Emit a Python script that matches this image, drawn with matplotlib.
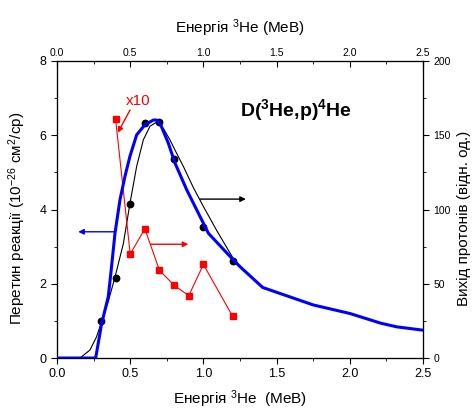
import matplotlib
matplotlib.use("Agg")
import matplotlib.pyplot as plt
from matplotlib.ticker import MultipleLocator, FormatStrFormatter

plt.rcParams['font.family'] = ['Liberation Sans', 'DejaVu Sans']
plt.rcParams['mathtext.fontset'] = 'custom'
plt.rcParams['mathtext.rm'] = 'Liberation Sans'
plt.rcParams['mathtext.it'] = 'Liberation Sans:italic'
plt.rcParams['mathtext.bf'] = 'Liberation Sans:bold'
plt.rcParams['mathtext.default'] = 'regular'

# Cross section (left axis), 10^-26 cm^2/sr
xs_energy = [0.0, 0.264, 0.305, 0.35, 0.369, 0.396, 0.43, 0.464, 0.498, 0.544,
             0.60, 0.658, 0.68, 0.703, 0.76, 0.806, 0.886, 0.977, 1.034, 1.193,
             1.25, 1.405, 1.75, 2.0, 2.21, 2.32, 2.5]
xs_value = [0.0, 0.0, 0.93, 1.65, 2.33, 3.36, 4.26, 4.89, 5.43, 6.01,
            6.28, 6.41, 6.41, 6.33, 5.79, 5.25, 4.53, 3.81, 3.36, 2.69,
            2.46, 1.90, 1.43, 1.20, 0.94, 0.84, 0.75]

# Measured proton yield (right axis) and its smooth curve
yield_energy = [0.3, 0.4, 0.5, 0.6, 0.7, 0.8, 1.0, 1.2]
yield_value = [25, 54, 104, 158, 159, 134, 88, 65]
fit_energy = [0.157, 0.225, 0.27, 0.305, 0.35, 0.40, 0.453, 0.498, 0.544, 0.59,
              0.635, 0.674, 0.726, 0.772, 0.806, 0.863, 0.93, 1.0, 1.09, 1.204]
fit_value = [0, 5.4, 14.3, 24.5, 38, 56, 77, 104, 129, 147,
             156, 158.5, 154.7, 146.8, 140, 129, 115, 102, 86, 67]

# Second yield series, scaled x10 (right axis)
red_energy = [0.4, 0.5, 0.6, 0.7, 0.8, 0.9, 1.0, 1.2]
red_value = [161, 70, 87, 59, 49, 42, 63, 28]

fig = plt.figure(figsize=(4.72, 4.12), dpi=100)
ax = fig.add_axes([0.1208, 0.131, 0.7754, 0.721])
ax2 = ax.twinx()
top = ax.twiny()

ax.plot(xs_energy, xs_value, color='#0000ff', lw=2.2, zorder=3)
ax2.plot(fit_energy, fit_value, color='black', lw=0.8, zorder=2)
ax2.plot(yield_energy, yield_value, 'o', color='black', ms=4.6, zorder=4)
ax2.plot(red_energy, red_value, '-s', color='#ff0000', lw=0.8, ms=4.6, zorder=4)

ax.set_xlim(0, 2.5)
top.set_xlim(0, 2.5)
ax.set_ylim(0, 8)
ax2.set_ylim(0, 200)
ax.set_zorder(ax2.get_zorder() + 2)
ax.patch.set_visible(False)
top.patch.set_visible(False)

for a in (ax, top):
    a.xaxis.set_major_locator(MultipleLocator(0.5))
    a.xaxis.set_minor_locator(MultipleLocator(0.25))
    a.xaxis.set_major_formatter(FormatStrFormatter('%.1f'))
ax.yaxis.set_major_locator(MultipleLocator(2))
ax.yaxis.set_minor_locator(MultipleLocator(1))
ax2.yaxis.set_major_locator(MultipleLocator(50))
ax2.yaxis.set_minor_locator(MultipleLocator(25))

ax.tick_params(axis='x', which='major', direction='out', length=4, labelsize=9)
ax.tick_params(axis='x', which='minor', direction='out', length=2.5)
ax.tick_params(axis='y', which='major', direction='out', length=4, labelsize=9)
ax.tick_params(axis='y', which='minor', direction='out', length=2.5)
ax2.tick_params(axis='y', which='major', direction='out', length=4, labelsize=7.5)
ax2.tick_params(axis='y', which='minor', direction='out', length=2.5)
top.tick_params(axis='x', which='major', direction='in', length=4, labelsize=7.5, pad=2)
top.tick_params(axis='x', which='minor', direction='in', length=2.5)
top.set_xlabel('Енергія $^3$He (МеВ)', fontsize=11, labelpad=11)

ax.set_xlabel('Енергія $^3$He  (МеВ)', fontsize=11, labelpad=6)
ax.set_ylabel('Перетин реакції (10$^{-26}$ см$^2$/ср)', fontsize=11)
ax.yaxis.set_label_coords(-0.078, 0.47)
ax2.set_ylabel('Вихід протонів (відн. од.)', fontsize=11)
ax2.yaxis.set_label_coords(1.093, 0.47)

ax.text(0.653, 0.835, r'D($\mathbf{^3}$He,p)$\mathbf{^4}$He', transform=ax.transAxes,
        fontsize=14, fontweight='bold', ha='center', va='center')

# Arrows pointing to the relevant axis for each curve
arrow_kw = dict(arrowstyle='-|>', lw=1.0, mutation_scale=8, shrinkA=0, shrinkB=0)
ax.annotate('', xy=(0.145, 3.40), xytext=(0.396, 3.40),
            arrowprops=dict(color='#0000ff', **arrow_kw))
ax2.annotate('', xy=(0.897, 76.6), xytext=(0.64, 76.6),
             arrowprops=dict(color='#ff0000', **arrow_kw))
ax2.annotate('', xy=(1.29, 107), xytext=(0.977, 107),
             arrowprops=dict(color='black', **arrow_kw))
ax2.annotate('', xy=(0.415, 151.7), xytext=(0.499, 167),
             arrowprops=dict(color='#ff0000', **arrow_kw))
ax2.text(0.553, 173, 'x10', color='#ff0000', fontsize=11, ha='center', va='center')

fig.savefig('out.png', dpi=100)
